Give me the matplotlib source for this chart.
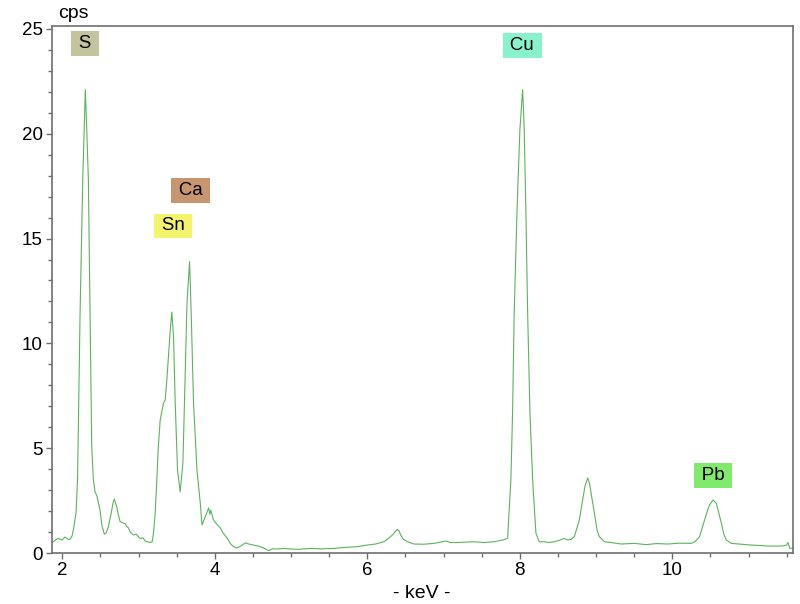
import numpy as np
import matplotlib
matplotlib.use("Agg")
import matplotlib.pyplot as plt
from matplotlib.ticker import MultipleLocator

plt.rcParams['font.family'] = ['Liberation Sans', 'DejaVu Sans']

# spectrum: energy (keV) and counts (cps)
kev = [1.882, 1.943, 1.996, 2.035, 2.075, 2.10, 2.127, 2.145, 2.18, 2.20,
       2.233, 2.268, 2.302, 2.318, 2.342, 2.364, 2.386, 2.407, 2.43, 2.452,
       2.495, 2.52, 2.552, 2.574, 2.604, 2.649, 2.666, 2.683, 2.70, 2.715,
       2.73, 2.758, 2.785, 2.824, 2.85, 2.867, 2.89, 2.933, 2.968, 3.021,
       3.06, 3.087, 3.153, 3.18, 3.196, 3.218, 3.24, 3.258, 3.284, 3.327,
       3.349, 3.371, 3.415, 3.437, 3.459, 3.481, 3.511, 3.546, 3.582, 3.612,
       3.635, 3.669, 3.69, 3.721, 3.766, 3.809, 3.832, 3.875, 3.919, 3.934,
       3.947, 3.98, 4.02, 4.073, 4.11, 4.16, 4.204, 4.247, 4.292, 4.336,
       4.401, 4.455, 4.51, 4.572, 4.641, 4.707, 4.756, 4.817, 4.90, 4.992,
       5.114, 5.255, 5.41, 5.561, 5.715, 5.86, 6.0, 6.109, 6.218, 6.28,
       6.329, 6.394, 6.418, 6.437, 6.477, 6.526, 6.612, 6.74, 6.875, 6.963,
       7.029, 7.094, 7.183, 7.292, 7.40, 7.528, 7.664, 7.774, 7.84, 7.883,
       7.905, 7.926, 7.962, 8.001, 8.037, 8.058, 8.08, 8.103, 8.133, 8.168,
       8.211, 8.255, 8.32, 8.383, 8.452, 8.514, 8.583, 8.628, 8.671, 8.715,
       8.75, 8.78, 8.825, 8.855, 8.891, 8.915, 8.935, 8.978, 9.013, 9.043,
       9.109, 9.197, 9.328, 9.503, 9.657, 9.789, 9.942, 10.09, 10.248, 10.30,
       10.357, 10.423, 10.459, 10.489, 10.533, 10.557, 10.577, 10.61, 10.643, 10.676,
       10.708, 10.774, 10.905, 11.036, 11.142, 11.256, 11.365, 11.457, 11.497, 11.516,
       11.54, 11.598]
cps = [0.54, 0.70, 0.62, 0.76, 0.66, 0.65, 0.80, 1.1, 1.9, 3.5,
       11.4, 17.8, 22.1, 20.5, 17.8, 11.4, 5.1, 3.5, 2.9, 2.75,
       2.05, 1.3, 0.9, 0.95, 1.25, 2.05, 2.4, 2.58, 2.35, 2.2,
       1.9, 1.5, 1.45, 1.4, 1.25, 1.2, 1.0, 0.86, 0.9, 0.70,
       0.72, 0.57, 0.50, 0.55, 0.95, 1.9, 3.5, 5.0, 6.35, 7.15,
       7.3, 8.25, 10.6, 11.5, 10.3, 7.15, 3.96, 2.92, 4.3, 8.7,
       11.9, 13.9, 11.5, 7.15, 3.96, 2.4, 1.34, 1.73, 2.15, 1.85,
       2.05, 1.6, 1.4, 1.19, 0.95, 0.72, 0.45, 0.30, 0.24, 0.33,
       0.48, 0.42, 0.38, 0.33, 0.24, 0.11, 0.2, 0.19, 0.22, 0.19,
       0.18, 0.22, 0.2, 0.22, 0.27, 0.3, 0.38, 0.43, 0.54, 0.7,
       0.86, 1.13, 1.05, 0.86, 0.65, 0.54, 0.43, 0.42, 0.46, 0.52,
       0.57, 0.5, 0.5, 0.52, 0.54, 0.5, 0.54, 0.62, 0.7, 3.5,
       6.7, 11.4, 16.2, 20.2, 22.1, 20.2, 16.2, 11.4, 6.7, 3.5,
       0.95, 0.54, 0.54, 0.5, 0.54, 0.6, 0.7, 0.62, 0.65, 0.78,
       1.2, 1.57, 2.53, 3.2, 3.58, 3.3, 2.86, 1.9, 1.1, 0.78,
       0.54, 0.5, 0.43, 0.46, 0.4, 0.45, 0.43, 0.47, 0.46, 0.55,
       0.78, 1.57, 2.0, 2.3, 2.53, 2.45, 2.37, 1.9, 1.43, 0.9,
       0.62, 0.46, 0.42, 0.38, 0.36, 0.33, 0.33, 0.34, 0.38, 0.5,
       0.22, 0.24]

# element labels
elements = ['S', 'Ca', 'Sn', 'Cu', 'Pb']
label_kev = [2.30, 3.68, 3.45, 8.03, 10.53]
label_cps = [24.3, 17.3, 15.6, 24.2, 3.7]
label_colors = ['#c3c49e', '#c8966e', '#f4f46c', '#88f2cc', '#80ea6c']

fig = plt.figure(figsize=(8, 6.04), dpi=100)
ax = fig.add_axes([0.065, 0.0844, 0.926, 0.8726])

ax.plot(kev, cps, color='#5cb35c', lw=0.8)

# thin spaces widen the coloured boxes a little
for name, x, y, c in zip(elements, label_kev, label_cps, label_colors):
    ax.text(x, y, '\u2009' + name + '\u2009', ha='center', va='center', fontsize=13.5,
            bbox=dict(boxstyle='square,pad=0.2', fc=c, ec='none'))

ax.set_xlim(1.865, 11.58)
ax.set_ylim(0, 25.14)
ax.xaxis.set_major_locator(MultipleLocator(2))
ax.xaxis.set_minor_locator(MultipleLocator(0.5))
ax.yaxis.set_major_locator(MultipleLocator(5))
ax.yaxis.set_minor_locator(MultipleLocator(1))

for s in ax.spines.values():
    s.set_color('#6e6e6e')
    s.set_linewidth(1.2)
ax.tick_params(which='major', direction='out', length=4.5, width=1, color='#6e6e6e',
               labelsize=13.5, pad=2)
ax.tick_params(which='minor', direction='out', length=3, width=1, color='#6e6e6e')

fig.text(58 / 800, 1 - 14 / 604, 'cps', ha='left', va='center', fontsize=14)
fig.text(422 / 800, 1 - 593 / 604, '- keV -', ha='center', va='center', fontsize=14)

fig.savefig('out.png', dpi=100)
